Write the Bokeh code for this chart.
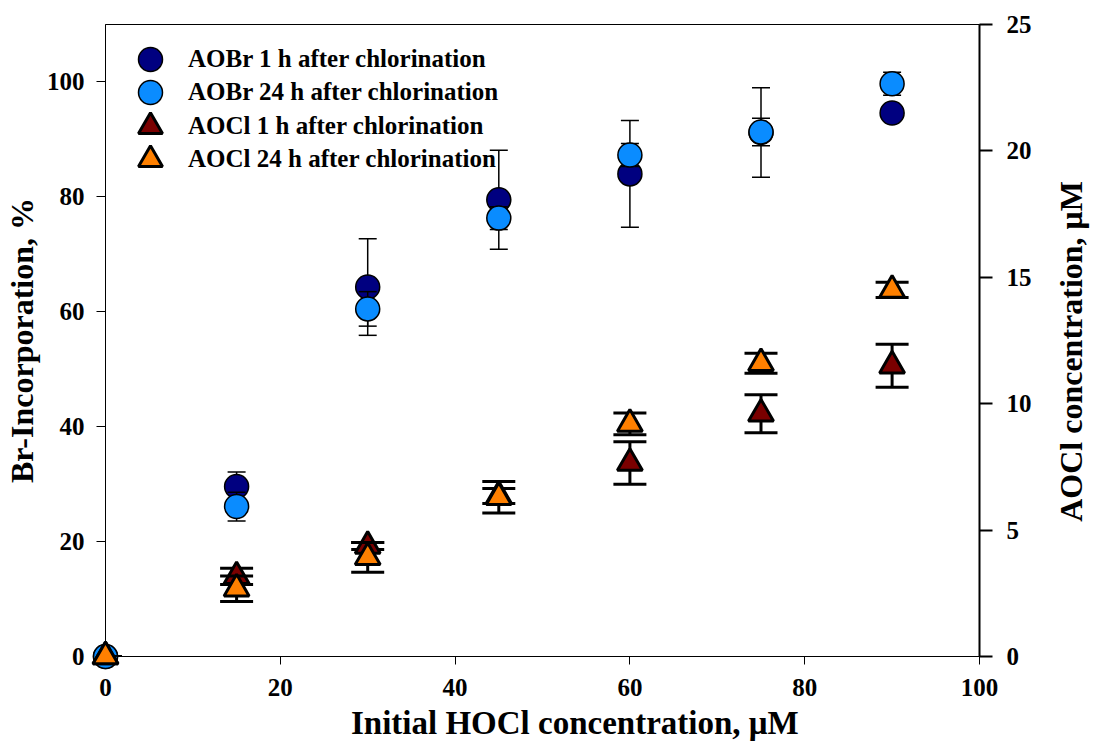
import math
from bokeh.plotting import figure
from bokeh.models import (ColumnDataSource, Range1d, LinearAxis, Whisker, TeeHead,
                          Legend, LegendItem, FixedTicker)
from bokeh.core.properties import value
from bokeh.embed import file_html
from bokeh.resources import INLINE

# ---- data ----
hocl = [0, 15, 30, 45, 60, 75, 90]

aobr_1h = [0, 29.6, 64.3, 79.5, 84.0, 91.2, 94.6]
aobr_1h_err = [0, 2.5, 8.4, 8.6, 9.3, 7.8, 1.0]
aobr_24h = [0, 26.1, 60.5, 76.3, 87.3, 91.3, 99.7]
aobr_24h_err = [0, 2.5, 3.0, 2.0, 2.0, 2.4, 2.0]

aocl_1h = [0, 3.17, 4.37, 6.35, 7.65, 9.6, 11.5]
aocl_1h_err = [0, 0.32, 0.14, 0.3, 0.84, 0.75, 0.85]
aocl_24h = [0, 2.68, 3.92, 6.3, 9.2, 11.6, 14.5]
aocl_24h_err = [0, 0.5, 0.59, 0.62, 0.43, 0.4, 0.3]

x_ticks = [0, 20, 40, 60, 80, 100]
left_ticks = [0, 20, 40, 60, 80, 100]
right_ticks = [0, 5, 10, 15, 20, 25]

labels = ["AOBr 1 h after chlorination", "AOBr 24 h after chlorination",
          "AOCl 1 h after chlorination", "AOCl 24 h after chlorination"]
x_title = "Initial HOCl concentration, \u03bcM"
y_title = "Br-Incorporation, %"
y2_title = "AOCl concentration, \u03bcM"

FONT = "Liberation Serif"


def src(vals, errs):
    return ColumnDataSource(dict(
        x=hocl, y=vals,
        upper=[v + e for v, e in zip(vals, errs)],
        lower=[v - e for v, e in zip(vals, errs)],
    ))


p = figure(width=1096, height=744, output_backend="svg", toolbar_location=None,
           x_range=Range1d(0, 100), y_range=Range1d(0, 110),
           min_border_left=102, min_border_right=117, min_border_top=24,
           min_border_bottom=88)
p.extra_y_ranges = {"aocl": Range1d(0, 25)}
p.grid.visible = False
p.outline_line_color = "black"
p.outline_line_width = 1
p.background_fill_color = "white"
p.border_fill_color = "white"


def style_axis(ax, ticks, tick_out, lw, standoff):
    ax.ticker = FixedTicker(ticks=ticks)
    ax.minor_tick_line_color = None
    ax.major_tick_in = 0
    ax.major_tick_out = tick_out
    ax.major_tick_line_width = lw
    ax.axis_line_width = lw
    ax.axis_line_color = "black"
    ax.major_tick_line_color = "black"
    ax.major_label_text_font = FONT
    ax.major_label_text_font_style = "bold"
    ax.major_label_text_font_size = "25px"
    ax.major_label_text_color = "black"
    ax.major_label_standoff = standoff
    ax.axis_label_text_font = FONT
    ax.axis_label_text_font_style = "bold"
    ax.axis_label_text_font_size = "32px"
    ax.axis_label_text_color = "black"


xa = p.xaxis[0]
style_axis(xa, x_ticks, 8, 1, 14)

ya = p.yaxis[0]
style_axis(ya, left_ticks, 9, 1, 12)
ya.axis_label = y_title
ya.axis_label_standoff = 4

ra = LinearAxis(y_range_name="aocl")
style_axis(ra, right_ticks, 13, 2, 14)
p.add_layout(ra, "right")

series = [
    (aobr_1h, aobr_1h_err, "circle", "#000080", 1.5, 24, "default", 18, 1.5),
    (aobr_24h, aobr_24h_err, "circle", "#0A8CFF", 1.5, 24, "default", 18, 1.5),
    (aocl_1h, aocl_1h_err, "triangle", "#7A0000", 3, 25, "aocl", 33, 3),
    (aocl_24h, aocl_24h_err, "triangle", "#FF8000", 3, 25, "aocl", 33, 3),
]

scatter_renderers = []
for vals, errs, marker, color, mlw, size, rng, cap, elw in series:
    s = src(vals, errs)
    w = Whisker(source=s, base="x", upper="upper", lower="lower", dimension="height",
                line_color="black", line_width=elw, y_range_name=rng, level="annotation",
                upper_head=TeeHead(size=cap, line_width=elw, line_color="black"),
                lower_head=TeeHead(size=cap, line_width=elw, line_color="black"))
    p.renderers.append(w)
    r = p.scatter(x="x", y="y", source=s, marker=marker, size=size, fill_color=color,
                  line_color="black", line_width=mlw, y_range_name=rng, level="annotation")
    scatter_renderers.append(r)

# axis titles placed as text outside the frame (bottom title is off-centre in the original)
p.text(x=[53.7], y=[-11.5], text=[x_title], text_align="center", text_baseline="middle",
       text_font=value(FONT), text_font_style="bold", text_font_size="33px",
       text_color="black", level="annotation")
p.text(x=[110.5], y=[53.1], text=[y2_title], angle=math.pi / 2,
       text_align="center", text_baseline="middle",
       text_font=value(FONT), text_font_style="bold", text_font_size="32px",
       text_color="black", level="annotation")

# one single-item legend per series, stacked 33 px apart
legend_bottoms = [567, 534, 500, 467]
for lab, r, vy in zip(labels, scatter_renderers, legend_bottoms):
    lg = Legend(items=[LegendItem(label=lab, renderers=[r])],
                location=(15, vy), margin=0, padding=0, glyph_width=60, glyph_height=60,
                label_standoff=8, border_line_color=None,
                background_fill_alpha=0, label_text_font=FONT, label_text_color="black",
                label_text_font_style="bold", label_text_font_size="25px")
    p.add_layout(lg)

open("out.html", "w").write(file_html(p, INLINE))
